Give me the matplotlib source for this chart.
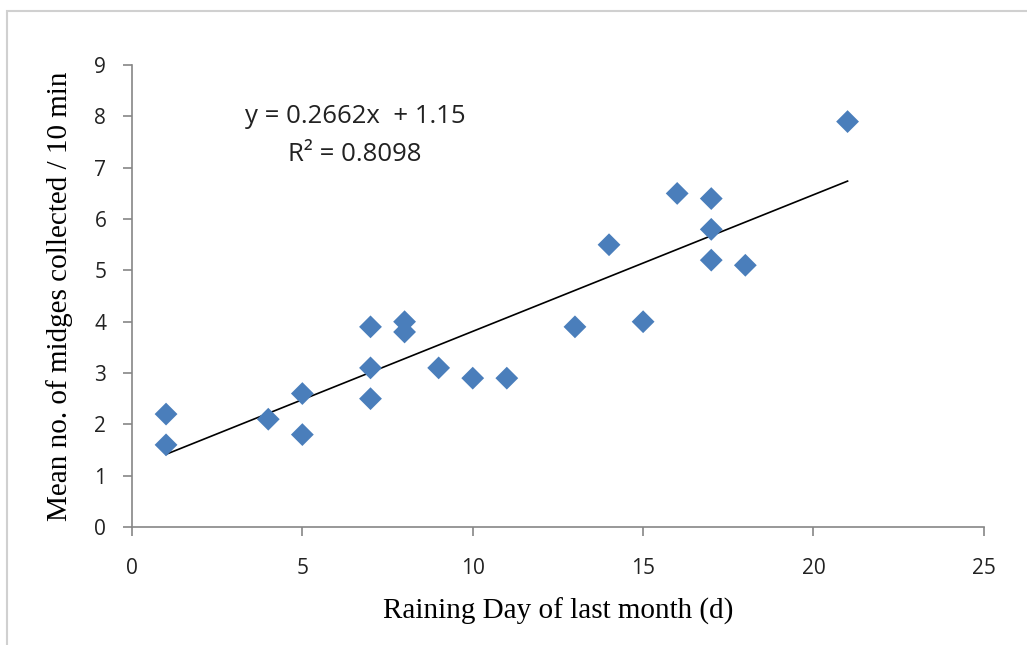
import matplotlib.pyplot as plt
from matplotlib.patches import Rectangle

# raining days vs mean midges caught
rain_days = [1, 1, 4, 5, 5, 7, 7, 7, 8, 8, 9, 10, 11, 13, 14, 15, 16, 17, 17, 17, 18, 21]
midges = [2.2, 1.6, 2.1, 2.6, 1.8, 3.9, 3.1, 2.5, 4.0, 3.8, 3.1, 2.9, 2.9, 3.9, 5.5, 4.0,
          6.5, 6.4, 5.8, 5.2, 5.1, 7.9]

slope = 0.2662
intercept = 1.15
r2 = 0.8098

x_ticks = [0, 5, 10, 15, 20, 25]
y_ticks = list(range(0, 10))

fig = plt.figure(figsize=(10.27, 6.45), dpi=100)
ax = fig.add_axes([0.1285, 0.183, 0.8295, 0.716])

# outer chart border (only left/top visible in the crop)
fig.patches.append(Rectangle((7 / 1027, -0.1), 1.2, 1 - 11 / 645 + 0.1, transform=fig.transFigure,
                             fill=False, edgecolor='#d0d0d0', lw=1.5))

ax.scatter(rain_days, midges, marker='D', s=135, color='#4a7ebb', edgecolors='none', zorder=3)

x_fit = [min(rain_days), max(rain_days)]
y_fit = [slope * v + intercept for v in x_fit]
ax.plot(x_fit, y_fit, color='black', lw=1.2, zorder=2)

ax.text(6.55, 8.0, 'y = %.4fx  + %.2f' % (slope, intercept), ha='center', va='center',
        fontsize=18.5, family='Open Sans', color='#222222')
ax.text(6.55, 7.25, 'R\u00b2 = %.4f' % r2, ha='center', va='center',
        fontsize=18.5, family='Open Sans', color='#222222')

ax.set_xlim(0, 25)
ax.set_ylim(0, 9)
ax.set_xticks(x_ticks)
ax.set_yticks(y_ticks)

for s in ['top', 'right']:
    ax.spines[s].set_visible(False)
for s in ['left', 'bottom']:
    ax.spines[s].set_color('#868686')
    ax.spines[s].set_linewidth(1.2)

ax.tick_params(direction='out', length=6.5, width=1.2, color='#868686', labelsize=15,
               labelcolor='#222222')
ax.tick_params(axis='x', pad=16)
ax.tick_params(axis='y', pad=12)
for lab in ax.get_xticklabels() + ax.get_yticklabels():
    lab.set_family('Open Sans')

ax.set_xlabel('Raining Day of last month (d)', family='Liberation Serif', fontsize=21, labelpad=13)
ax.set_ylabel('Mean no. of midges collected / 10 min', family='Liberation Serif', fontsize=21,
              labelpad=15)

fig.savefig('out.png', dpi=100)
